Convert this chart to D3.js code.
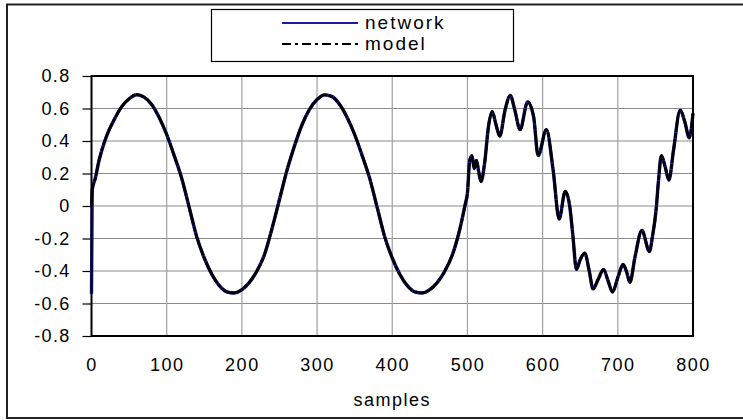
<!DOCTYPE html>
<html>
<head>
<meta charset="utf-8">
<script src="https://cdn.jsdelivr.net/npm/d3@7"></script>
<style>
    body { margin: 0; background: #fff; }
    text { font-family: "Liberation Sans", Arial, sans-serif; fill: #000; }
</style>
</head>
<body>
<div id="chart"></div>
<script>
// sample index of each reading
const samples = [
    0, 1, 5, 10, 20, 30, 40, 50, 60, 70, 80, 90, 100, 110, 120, 130, 140, 150, 160, 170,
    180, 190, 200, 210, 220, 230, 240, 250, 260, 270, 280, 290, 300, 310, 320, 330, 340,
    350, 360, 370, 380, 390, 400, 410, 420, 430, 440, 450, 460, 470, 480, 490, 497, 500,
    503, 506, 509, 512, 515, 518, 523, 528, 533, 538, 543, 550, 557, 563, 570, 580, 588,
    594, 605, 614, 622, 630, 636, 640, 645, 650, 656, 662, 667, 674, 681, 687, 693, 700,
    707, 712, 716, 723, 732, 742, 746, 751, 754, 758, 763, 768, 774, 783, 789, 795, 800
];
const network = [
    -0.54, 0.10, 0.17, 0.28, 0.43, 0.53, 0.61, 0.66, 0.685, 0.67, 0.625, 0.545, 0.44, 0.31, 0.17, -0.01, -0.19, -0.32, -0.42, -0.49,
    -0.528, -0.535, -0.515, -0.47, -0.40, -0.30, -0.14, 0.04, 0.22, 0.37, 0.50, 0.595, 0.655, 0.684, 0.673, 0.625, 0.545,
    0.44, 0.31, 0.17, -0.01, -0.19, -0.32, -0.42, -0.49, -0.528, -0.535, -0.515, -0.47, -0.40, -0.30, -0.14, 0.01, 0.08,
    0.28, 0.31, 0.23, 0.28, 0.21, 0.15, 0.27, 0.49, 0.58, 0.50, 0.43, 0.59, 0.68, 0.59, 0.47, 0.64, 0.55,
    0.31, 0.47, 0.22, -0.08, 0.09, 0.00, -0.17, -0.39, -0.33, -0.29, -0.40, -0.51, -0.45, -0.39, -0.46, -0.53, -0.44,
    -0.36, -0.41, -0.47, -0.31, -0.15, -0.28, -0.19, -0.02, 0.15, 0.31, 0.24, 0.16, 0.34, 0.59, 0.52, 0.42, 0.57
];
const model = [
    0.00, 0.10, 0.17, 0.28, 0.43, 0.53, 0.61, 0.66, 0.685, 0.67, 0.625, 0.545, 0.44, 0.31, 0.17, -0.01, -0.19, -0.32, -0.42, -0.49,
    -0.528, -0.535, -0.515, -0.47, -0.40, -0.30, -0.14, 0.04, 0.22, 0.37, 0.50, 0.595, 0.655, 0.684, 0.673, 0.625, 0.545,
    0.44, 0.31, 0.17, -0.01, -0.19, -0.32, -0.42, -0.49, -0.528, -0.535, -0.515, -0.47, -0.40, -0.30, -0.14, 0.01, 0.08,
    0.28, 0.31, 0.23, 0.28, 0.21, 0.15, 0.27, 0.49, 0.58, 0.50, 0.43, 0.59, 0.68, 0.59, 0.47, 0.64, 0.55,
    0.31, 0.47, 0.22, -0.08, 0.09, 0.00, -0.17, -0.39, -0.33, -0.29, -0.40, -0.51, -0.45, -0.39, -0.46, -0.53, -0.44,
    -0.36, -0.41, -0.47, -0.31, -0.15, -0.28, -0.19, -0.02, 0.15, 0.31, 0.24, 0.16, 0.34, 0.59, 0.52, 0.42, 0.57
];
const xTicks = [0, 100, 200, 300, 400, 500, 600, 700, 800];
const yTicks = [-0.8, -0.6, -0.4, -0.2, 0, 0.2, 0.4, 0.6, 0.8];
const seriesNames = ["network", "model"];

document.addEventListener("DOMContentLoaded", draw)

function draw() {
    const width = 743;
    const height = 420;
    const plot = {left: 91.5, right: 693, top: 76, bottom: 336};

    const svg = d3.select("#chart").append("svg")
        .attr("width", width)
        .attr("height", height);

    // outer chart border
    svg.append("rect")
        .attr("x", 7).attr("y", 4.5)
        .attr("width", 737).attr("height", 413.5)
        .attr("fill", "none")
        .attr("stroke", "#222")
        .attr("stroke-width", 2);

    const x = d3.scaleLinear().domain([0, 800]).range([plot.left, plot.right]);
    const y = d3.scaleLinear().domain([-0.8, 0.8]).range([plot.bottom, plot.top]);

    // grid
    svg.append("g")
        .selectAll("line")
        .data(yTicks)
        .enter()
        .append("line")
        .attr("x1", plot.left).attr("x2", plot.right)
        .attr("y1", d => y(d)).attr("y2", d => y(d))
        .attr("stroke", "#8c8c8c")
        .attr("stroke-width", 1.2);
    svg.append("g")
        .selectAll("line")
        .data(xTicks)
        .enter()
        .append("line")
        .attr("x1", d => x(d)).attr("x2", d => x(d))
        .attr("y1", plot.top).attr("y2", plot.bottom)
        .attr("stroke", "#a0a0a0")
        .attr("stroke-width", 1.2);

    // y axis, ticks pointing out; plain hyphen for negatives
    const yAxis = svg.append("g")
        .attr("transform", "translate(" + plot.left + ",0)")
        .call(d3.axisLeft(y).tickValues(yTicks).tickFormat(d => String(d)).tickSize(9).tickPadding(12));
    yAxis.select(".domain").remove();
    yAxis.selectAll("line").attr("stroke", "#000").attr("stroke-width", 1.2);
    yAxis.selectAll("text")
        .style("font-family", "Liberation Sans, Arial, sans-serif")
        .style("font-size", "18px")
        .style("letter-spacing", "1.3px")
        .attr("fill", "#000");

    // x axis labels only
    const xAxis = svg.append("g")
        .attr("transform", "translate(0," + plot.bottom + ")")
        .call(d3.axisBottom(x).tickValues(xTicks).tickSize(0).tickPadding(22));
    xAxis.select(".domain").remove();
    xAxis.selectAll("text")
        .style("font-family", "Liberation Sans, Arial, sans-serif")
        .style("font-size", "18px")
        .style("letter-spacing", "1.5px")
        .attr("fill", "#000");

    svg.append("text")
        .attr("x", (plot.left + plot.right) / 2)
        .attr("y", 406)
        .attr("text-anchor", "middle")
        .style("font-size", "18px")
        .style("letter-spacing", "1.5px")
        .text("samples");

    // series
    const line = d3.line()
        .x((d, i) => x(samples[i]))
        .y(d => y(d))
        .curve(d3.curveMonotoneX);

    svg.append("path")
        .datum(network)
        .attr("d", line)
        .attr("fill", "none")
        .attr("stroke", "#1c1c9c")
        .attr("stroke-width", 3.4);

    svg.append("path")
        .datum(model)
        .attr("d", line)
        .attr("fill", "none")
        .attr("stroke", "#000")
        .attr("stroke-width", 2.8)
        .attr("stroke-dasharray", "24,1,5,1");

    // plot frame
    svg.append("rect")
        .attr("x", plot.left).attr("y", plot.top)
        .attr("width", plot.right - plot.left)
        .attr("height", plot.bottom - plot.top)
        .attr("fill", "none")
        .attr("stroke", "#000")
        .attr("stroke-width", 2);

    // legend
    const legend = svg.append("g");
    legend.append("rect")
        .attr("x", 211.5).attr("y", 9.5)
        .attr("width", 302).attr("height", 52)
        .attr("fill", "#fff")
        .attr("stroke", "#000")
        .attr("stroke-width", 1.2);

    const legendRows = [
        {name: seriesNames[0], color: "#1c1c9c", dash: null, y: 23},
        {name: seriesNames[1], color: "#000", dash: "9,4,3,4", y: 44}
    ];
    legendRows.forEach(r => {
        legend.append("line")
            .attr("x1", 282).attr("x2", 358)
            .attr("y1", r.y).attr("y2", r.y)
            .attr("stroke", r.color)
            .attr("stroke-width", 2)
            .attr("stroke-dasharray", r.dash);
        legend.append("text")
            .attr("x", 365)
            .attr("y", r.y + 6)
            .style("font-size", "19px")
            .style("letter-spacing", "2px")
            .text(r.name);
    });
}
</script>
</body>
</html>
